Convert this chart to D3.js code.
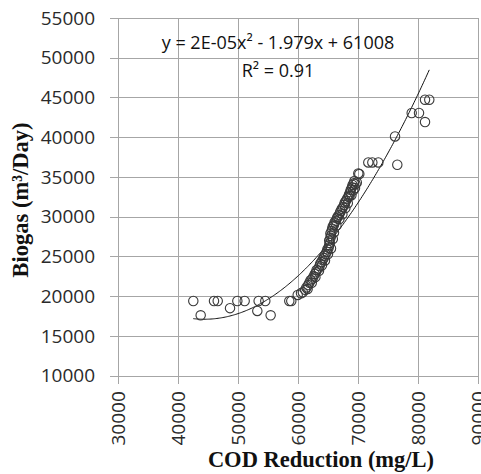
<!DOCTYPE html>
<html>
<head>
<meta charset="utf-8">
<script src="https://cdn.jsdelivr.net/npm/d3@7"></script>
<style>
  html, body { margin: 0; padding: 0; background: #fff; }
  svg { display: block; }
</style>
</head>
<body>
<svg id="chart" width="481" height="474"></svg>
<script>
// COD reduction (mg/L) and biogas production (m3/day) observations
const codReduction = [
  42550, 43780, 46000, 46620, 48670, 49890, 51110, 53220, 53440, 54550, 55440, 58550, 58880,
  59950, 60500, 60800, 61200, 61400, 61700, 61900, 62100, 62400, 62600, 62800, 63000, 63100,
  63400, 63600, 63700, 63900, 64100, 64300, 64400, 64600, 64800, 64900, 65100, 65200,
  65300, 65200, 65400, 65500, 65400, 65600, 65700, 65800, 66000, 66100, 66300, 66500,
  66600, 66800, 67000, 67100, 67300, 67500, 67700, 67800, 68000, 68200, 68400, 68500,
  68700, 68800, 69000, 69100, 69300, 69400, 69600, 69200, 68600, 70050,
  61600, 62300, 62900, 63500, 64000, 64500, 65000, 65500, 65800, 66000, 66400,
  66900, 67400, 67900, 68300, 68900, 69500, 69800,
  70220, 71720, 72390, 73390, 76550, 76170, 78950, 80170, 81170, 81170, 81880
];
const biogas = [
  19400, 17600, 19400, 19400, 18500, 19400, 19400, 18150, 19400, 19400, 17600, 19400, 19400,
  20160, 20380, 20500, 20800, 21100, 21400, 21700, 22000, 22200, 22500, 22800, 23000, 23300,
  23500, 23800, 24100, 24300, 24600, 24800, 25100, 25300, 25600, 25900, 26100, 26400,
  26700, 27000, 27300, 27600, 27900, 28200, 28500, 28800, 29000, 29300, 29500, 29800,
  30000, 30200, 30500, 30700, 31000, 31200, 31500, 31800, 32000, 32300, 32500, 32800,
  33100, 33400, 33700, 34000, 34200, 34500, 34100, 33300, 32600, 35450,
  20900, 21700, 22400, 23200, 23900, 24500, 25300, 26000, 27200, 28000, 28900,
  29700, 30300, 31100, 31700, 32700, 33600, 34300,
  35370, 36830, 36830, 36830, 36540, 40100, 43050, 43050, 41910, 44720, 44720
];

// Axis tick values
const xTicks = [30000, 40000, 50000, 60000, 70000, 80000, 90000];
const yTicks = [10000, 15000, 20000, 25000, 30000, 35000, 40000, 45000, 50000, 55000];

// Polynomial (order 2) trendline coefficients: a*x^2 + b*x + c
const trendCoef = [2.23e-5, -1.979, 61008];
const rSquared = 0.91;

const svg = d3.select("#chart");
const margin = { left: 118, top: 18, right: 3, bottom: 98.3 };
const W = 481, H = 474;
const innerW = W - margin.left - margin.right;
const innerH = H - margin.top - margin.bottom;
const tickLen = 8;

const x = d3.scaleLinear().domain([30000, 90000]).range([margin.left, margin.left + innerW]);
const y = d3.scaleLinear().domain([10000, 55000]).range([margin.top + innerH, margin.top]);

const gridColor = "#a6a6a6";
const tickFont = "'Open Sans', 'DejaVu Sans', sans-serif";

// Horizontal gridlines with outward ticks
const yAxis = svg.append("g")
  .attr("transform", `translate(${margin.left - tickLen},0)`)
  .call(d3.axisLeft(y).tickValues(yTicks).tickFormat(d3.format("d"))
    .tickSize(-(innerW + tickLen)).tickPadding(15));
yAxis.select(".domain").remove();
yAxis.selectAll("line").attr("stroke", gridColor).attr("shape-rendering", "crispEdges");
yAxis.selectAll("text")
  .attr("font-family", tickFont).attr("font-size", 19).attr("fill", "#2a2a2a");

// Vertical gridlines with outward ticks and rotated labels
const xAxis = svg.append("g")
  .attr("transform", `translate(0,${margin.top + innerH + tickLen})`)
  .call(d3.axisBottom(x).tickValues(xTicks).tickFormat(d3.format("d"))
    .tickSize(-(innerH + tickLen)));
xAxis.select(".domain").remove();
xAxis.selectAll("line").attr("stroke", gridColor).attr("shape-rendering", "crispEdges");
xAxis.selectAll("text")
  .attr("font-family", tickFont).attr("font-size", 19).attr("fill", "#2a2a2a")
  .attr("transform", "rotate(-90)")
  .attr("text-anchor", "end")
  .attr("x", -7.5).attr("y", 0).attr("dy", "0.36em");

// Trendline over the data range
const [xMin, xMax] = d3.extent(codReduction);
const trendPts = d3.range(0, 201).map(i => {
  const xv = xMin + (xMax - xMin) * i / 200;
  return [xv, trendCoef[0] * xv * xv + trendCoef[1] * xv + trendCoef[2]];
});
svg.append("path")
  .datum(trendPts)
  .attr("fill", "none")
  .attr("stroke", "#111")
  .attr("stroke-width", 1)
  .attr("d", d3.line().x(d => x(d[0])).y(d => y(d[1])));

// Observations as open circles
svg.append("g")
  .selectAll("circle")
  .data(codReduction.map((v, i) => [v, biogas[i]]))
  .join("circle")
  .attr("cx", d => x(d[0]))
  .attr("cy", d => y(d[1]))
  .attr("r", 4.7)
  .attr("fill", "none")
  .attr("stroke", "#3a3a3a")
  .attr("stroke-width", 1.1);

// Trendline equation and R²
function sciLabel(v) {
  const [m, e] = d3.format(".0e")(v).split("e");
  const ev = +e;
  return m + "E" + (ev < 0 ? "-" : "+") + String(Math.abs(ev)).padStart(2, "0");
}
const bAbs = Math.abs(trendCoef[1]);
const eqText = `y = ${sciLabel(trendCoef[0])}x² ${trendCoef[1] < 0 ? "-" : "+"} ${bAbs}x ${trendCoef[2] < 0 ? "-" : "+"} ${Math.abs(trendCoef[2])}`;
svg.append("text")
  .attr("x", 278).attr("y", 49)
  .attr("text-anchor", "middle")
  .attr("font-family", tickFont).attr("font-size", 18).attr("fill", "#111")
  .text(eqText);
svg.append("text")
  .attr("x", 278).attr("y", 77)
  .attr("text-anchor", "middle")
  .attr("font-family", tickFont).attr("font-size", 18).attr("fill", "#111")
  .text(`R² = ${rSquared}`);

// Axis titles
const titleFont = "'Liberation Serif', 'Times New Roman', serif";
svg.append("text")
  .attr("x", 321).attr("y", 467)
  .attr("text-anchor", "middle")
  .attr("font-family", titleFont).attr("font-weight", "bold").attr("font-size", 22.5)
  .attr("fill", "#111")
  .text("COD Reduction (mg/L)");
svg.append("text")
  .attr("transform", "translate(27.5,200) rotate(-90)")
  .attr("text-anchor", "middle")
  .attr("font-family", titleFont).attr("font-weight", "bold").attr("font-size", 22.5)
  .attr("fill", "#111")
  .text("Biogas (m³/Day)");
</script>
</body>
</html>
